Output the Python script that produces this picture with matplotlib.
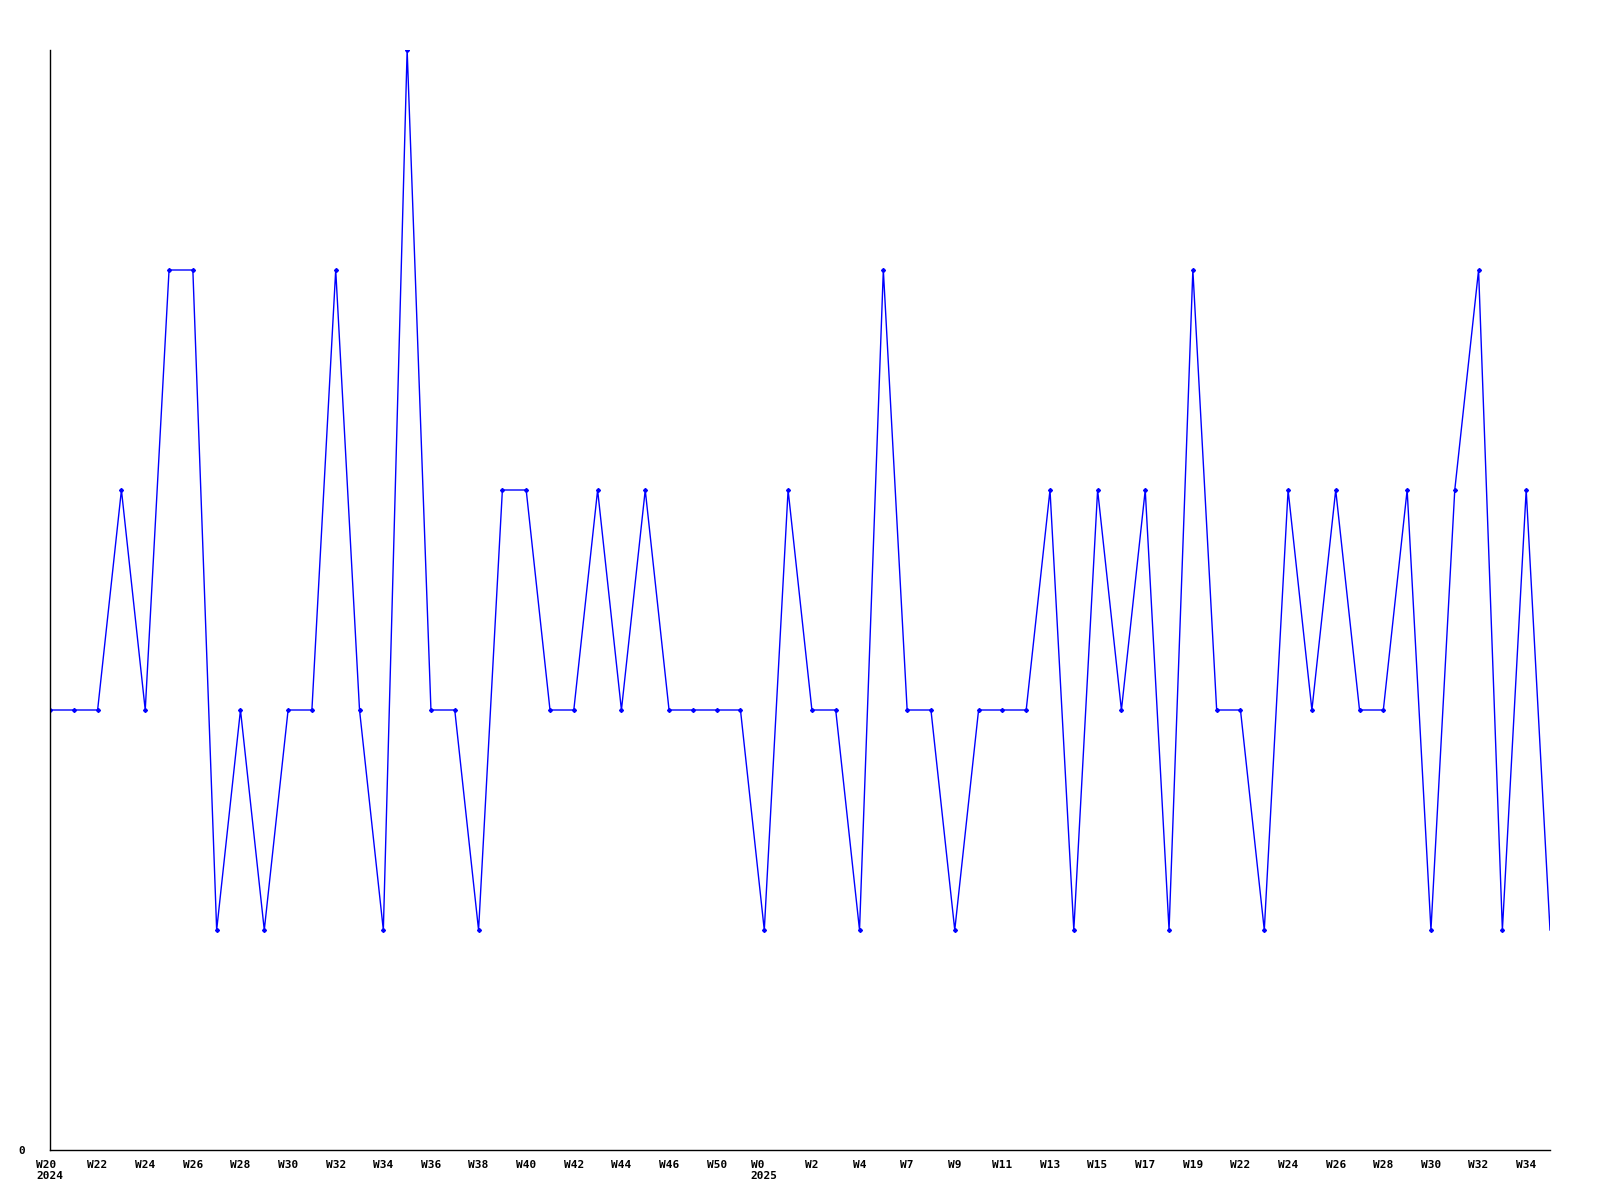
import matplotlib
matplotlib.use("Agg")
import matplotlib.pyplot as plt

values = [2, 2, 2, 3, 2, 4, 4, 1, 2, 1, 2, 2, 4, 2, 1, 5, 2, 2, 1, 3,
          3, 2, 2, 3, 2, 3, 2, 2, 2, 2, 1, 3, 2, 2, 1, 4, 2, 2, 1, 2,
          2, 2, 3, 1, 3, 2, 3, 1, 4, 2, 2, 1, 3, 2, 3, 2, 2, 3, 1, 3,
          4, 1, 3, 1]
tick_labels = ["W20\n2024", "W22", "W24", "W26", "W28", "W30", "W32", "W34",
               "W36", "W38", "W40", "W42", "W44", "W46", "W50", "W0\n2025",
               "W2", "W4", "W7", "W9", "W11", "W13", "W15", "W17", "W19",
               "W22", "W24", "W26", "W28", "W30", "W32", "W34"]

x = list(range(len(values)))

fig = plt.figure(figsize=(16, 12), dpi=100)
ax = fig.add_axes([50/1600, 50/1200, 1500/1600, 1100/1200])
ax.plot(x, values, color=(0, 0, 1), lw=1.0)
ax.plot(x[:-1], values[:-1], linestyle='none', marker='D', markersize=2.0,
        color=(0, 0, 1))
ax.set_xlim(0, len(values) - 1)
ax.set_ylim(0, 5)
for s in ['top', 'right']:
    ax.spines[s].set_visible(False)
for s in ['left', 'bottom']:
    ax.spines[s].set_color('black')
    ax.spines[s].set_linewidth(1.0)

ax.set_xticks(x[::2])
labels = ax.set_xticklabels(tick_labels, family='DejaVu Sans Mono', fontweight='bold',
                            fontsize=8, multialignment='left')
ax.set_yticks([0])
ax.set_yticklabels(['0'], family='DejaVu Sans Mono', fontweight='bold', fontsize=8)
ax.tick_params(axis='both', length=0, pad=7)
ax.tick_params(axis='y', pad=18)

fig.savefig('out.png', dpi=100, facecolor='white')
